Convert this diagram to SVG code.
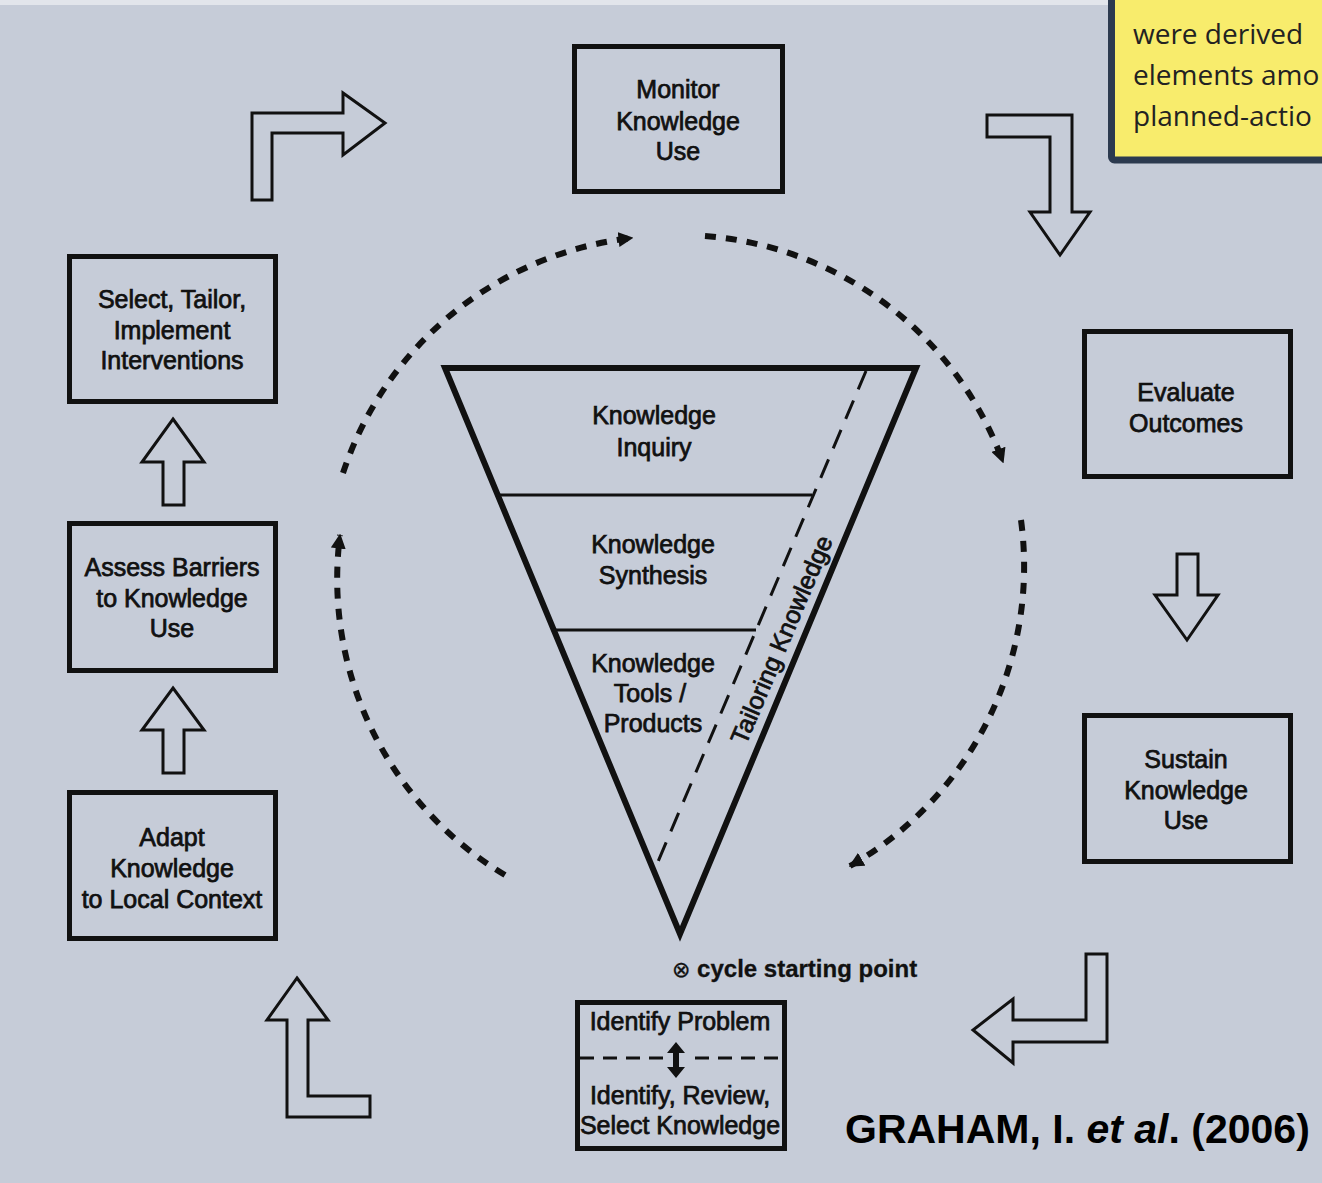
<svg xmlns="http://www.w3.org/2000/svg" width="1322" height="1183" viewBox="0 0 1322 1183">
  <defs>
    <style>
      .box { fill: none; stroke: #111; stroke-width: 5; }
      .lbl { font-family: "Liberation Sans", Arial, sans-serif; font-size: 25px; fill: #111; stroke: #111; stroke-width: 0.75; text-anchor: middle; }
      .blk { fill: #c6ccd8; stroke: #111; stroke-width: 3; stroke-linejoin: miter; }
      .cyc { fill: none; stroke: #111; stroke-width: 6; stroke-dasharray: 11 10; }
      .note { font-family: "Open Sans", "Noto Sans", sans-serif; font-size: 28px; fill: #222; }
    </style>
    <marker id="tip" viewBox="0 0 10 10" refX="9" refY="5" markerWidth="15" markerHeight="15" markerUnits="userSpaceOnUse" orient="auto">
      <path d="M0,0 L10,5 L0,10 z" fill="#111"/>
    </marker>
  </defs>

  <!-- backdrop -->
  <rect x="0" y="0" width="1322" height="1183" fill="#c6ccd8"/>
  <rect x="0" y="0" width="1322" height="5" fill="#e2e5eb"/>

  <!-- yellow call-out, cut by the right edge -->
  <g id="note">
    <rect x="1111.5" y="-10" width="230" height="170" rx="3" fill="#f8ec6c" stroke="#2c3a4f" stroke-width="7"/>
    <text class="note" x="1133" y="44">were derived</text>
    <text class="note" x="1133" y="85">elements amo</text>
    <text class="note" x="1133" y="126">planned-actio</text>
  </g>

  <!-- action cycle boxes -->
  <g id="monitor">
    <rect class="box" x="574.5" y="46.5" width="208" height="145"/>
    <text class="lbl" x="678" y="98">Monitor</text>
    <text class="lbl" x="678" y="130">Knowledge</text>
    <text class="lbl" x="678" y="160">Use</text>
  </g>
  <g id="select">
    <rect class="box" x="69.5" y="256.5" width="206" height="145"/>
    <text class="lbl" x="172" y="308">Select, Tailor,</text>
    <text class="lbl" x="172" y="339">Implement</text>
    <text class="lbl" x="172" y="369">Interventions</text>
  </g>
  <g id="assess">
    <rect class="box" x="69.5" y="523.5" width="206" height="147"/>
    <text class="lbl" x="172" y="576">Assess Barriers</text>
    <text class="lbl" x="172" y="607">to Knowledge</text>
    <text class="lbl" x="172" y="637">Use</text>
  </g>
  <g id="adapt">
    <rect class="box" x="69.5" y="792.5" width="206" height="146"/>
    <text class="lbl" x="172" y="846">Adapt</text>
    <text class="lbl" x="172" y="877">Knowledge</text>
    <text class="lbl" x="172" y="908">to Local Context</text>
  </g>
  <g id="evaluate">
    <rect class="box" x="1084.5" y="331.5" width="206" height="145"/>
    <text class="lbl" x="1186" y="401">Evaluate</text>
    <text class="lbl" x="1186" y="432">Outcomes</text>
  </g>
  <g id="sustain">
    <rect class="box" x="1084.5" y="715.5" width="206" height="146"/>
    <text class="lbl" x="1186" y="768">Sustain</text>
    <text class="lbl" x="1186" y="799">Knowledge</text>
    <text class="lbl" x="1186" y="829">Use</text>
  </g>
  <g id="identify">
    <rect class="box" x="577.5" y="1002.5" width="207" height="146"/>
    <text class="lbl" x="680" y="1030">Identify Problem</text>
    <line x1="580" y1="1058" x2="783" y2="1058" stroke="#111" stroke-width="3" stroke-dasharray="14 9"/>
    <rect x="664" y="1043" width="24" height="34" fill="#c6ccd8"/>
    <path d="M676,1042 L685,1053 L679,1053 L679,1067 L685,1067 L676,1078 L667,1067 L673,1067 L673,1053 L667,1053 z" fill="#111"/>
    <text class="lbl" x="680" y="1104">Identify, Review,</text>
    <text class="lbl" x="680" y="1134">Select Knowledge</text>
  </g>
  <g id="start">
    <text class="lbl" x="672" y="977" style="text-anchor:start;font-size:24px;font-weight:bold;stroke-width:0.3"><tspan font-family="DejaVu Sans, sans-serif" font-weight="normal" font-size="22">⊗</tspan> cycle starting point</text>
  </g>

  <!-- knowledge creation funnel -->
  <g id="funnel">
    <polygon points="445,368 916,368 680,934" fill="none" stroke="#111" stroke-width="6" stroke-linejoin="miter" stroke-miterlimit="10"/>
    <line x1="497" y1="495" x2="812" y2="495" stroke="#111" stroke-width="3"/>
    <line x1="553" y1="630" x2="756" y2="630" stroke="#111" stroke-width="3"/>
    <line x1="866" y1="371" x2="657" y2="864" stroke="#111" stroke-width="3" stroke-dasharray="20 12"/>
    <text class="lbl" x="654" y="424">Knowledge</text>
    <text class="lbl" x="654" y="456">Inquiry</text>
    <text class="lbl" x="653" y="553">Knowledge</text>
    <text class="lbl" x="653" y="584">Synthesis</text>
    <text class="lbl" x="653" y="672">Knowledge</text>
    <text class="lbl" x="650" y="702">Tools /</text>
    <text class="lbl" x="653" y="732">Products</text>
    <text class="lbl" transform="translate(782,640) rotate(-67)" x="0" y="8">Tailoring Knowledge</text>
  </g>

  <!-- connectors: dashed cycle arcs and block arrows -->
  <g id="connectors">
    <path class="cyc" d="M505,875 A345,345 0 0 1 340,535" marker-end="url(#tip)"/>
    <path class="cyc" d="M343,473 A345,345 0 0 1 632,238" marker-end="url(#tip)"/>
    <path class="cyc" d="M705,236 A345,345 0 0 1 1003,462" marker-end="url(#tip)"/>
    <path class="cyc" d="M1021,520 A345,345 0 0 1 850,866" marker-end="url(#tip)"/>

    <polygon class="blk" points="252,200 252,113 343,113 343,93 385,123 343,155 343,133 272,133 272,200"/>
    <polygon class="blk" points="987,115 1072,115 1072,212 1090,212 1060,255 1030,212 1050,212 1050,137 987,137"/>
    <polygon class="blk" points="1177,554 1198,554 1198,595 1218,595 1187,640 1155,595 1177,595"/>
    <polygon class="blk" points="1086,954 1107,954 1107,1042 1013,1042 1013,1063 973,1030 1013,999 1013,1020 1086,1020"/>
    <polygon class="blk" points="297,978 328,1020 308,1020 308,1096 370,1096 370,1117 287,1117 287,1020 267,1020"/>
    <polygon class="blk" points="173,419 204,462 184,462 184,505 163,505 163,462 142,462"/>
    <polygon class="blk" points="173,688 204,730 184,730 184,773 163,773 163,730 142,730"/>
  </g>

  <!-- source -->
  <text x="845" y="1143" font-family="Liberation Sans, Arial, sans-serif" font-size="41" font-weight="bold" fill="#000">GRAHAM, I. <tspan font-style="italic">et al</tspan>. (2006)</text>
</svg>
